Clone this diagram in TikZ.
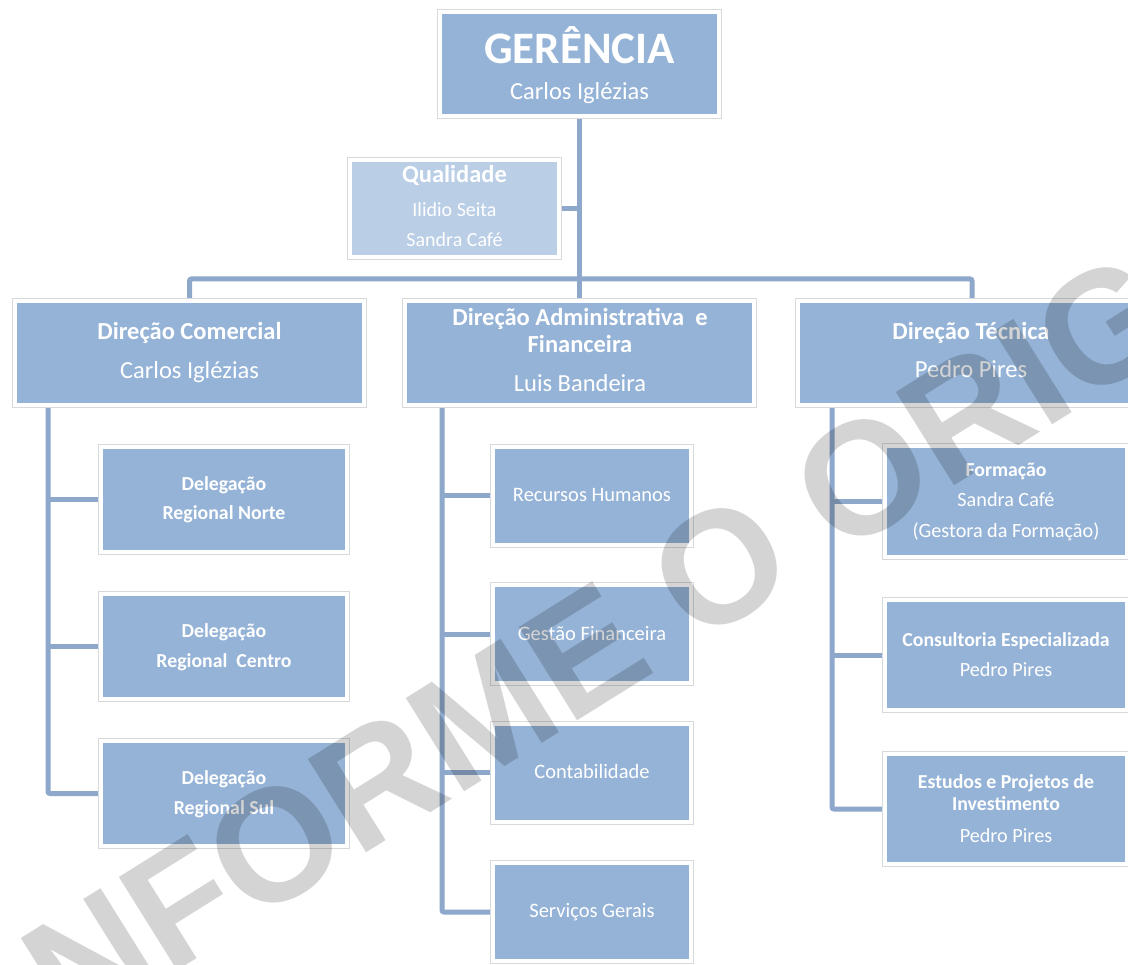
\documentclass[tikz,border=0pt]{standalone}
\usepackage{fontspec}
\setmainfont{Carlito}
\newfontfamily\wmfont{Liberation Sans}
\usetikzlibrary{backgrounds,calc}
\definecolor{boxblue}{HTML}{95B3D7}
\definecolor{qualblue}{HTML}{BACEE6}
\definecolor{framegray}{HTML}{D9D9D9}
\definecolor{linkblue}{HTML}{8DA8CB}
\begin{document}
\begin{tikzpicture}[x=1pt,y=-1pt,
  orgbox/.style={rectangle, inner sep=0pt, fill=boxblue, draw=white, line width=4pt,
                 preaction={draw=framegray, line width=6pt}},
  link/.style={draw=linkblue, line width=5pt, rounded corners=2pt},
  lbl/.style={anchor=base, text=white, inner sep=0pt},
  fs/.style={font=\fontsize{#1}{#1}\selectfont},
  bfs/.style={font=\fontsize{#1}{#1}\selectfont\bfseries},
  wm/.style={font=\wmfont\bfseries\fontsize{160}{160}\selectfont, text=black, text opacity=0.17, inner sep=0pt}]
\useasboundingbox (0,0) rectangle (1128,965);

% boxes
\node[orgbox, minimum width=279pt, minimum height=104pt] (ger) at (579.5,64) {};
\node[orgbox, fill=qualblue, minimum width=209pt, minimum height=97pt] (qual) at (454.5,208.5) {};
\node[orgbox, minimum width=349pt, minimum height=104pt] (dc) at (189.5,353) {};
\node[orgbox, minimum width=349pt, minimum height=104pt] (da) at (579.5,353) {};
\node[orgbox, minimum width=349pt, minimum height=104pt] (dt) at (972,353) {};
\node[orgbox, minimum width=246pt, minimum height=105pt] (del1) at (224,499.5) {};
\node[orgbox, minimum width=246pt, minimum height=105pt] (del2) at (224,646.5) {};
\node[orgbox, minimum width=246pt, minimum height=105pt] (del3) at (224,793.5) {};
\node[orgbox, minimum width=198pt, minimum height=98pt] (rh) at (592,496) {};
\node[orgbox, minimum width=198pt, minimum height=98pt] (gf) at (592,634) {};
\node[orgbox, minimum width=198pt, minimum height=98pt] (cont) at (592,772.5) {};
\node[orgbox, minimum width=198pt, minimum height=98pt] (serv) at (592,912) {};
\node[orgbox, minimum width=242pt, minimum height=111pt] (form) at (1006,501.5) {};
\node[orgbox, minimum width=242pt, minimum height=110pt] (cons) at (1006,655) {};
\node[orgbox, minimum width=242pt, minimum height=110pt] (est) at (1006,809) {};

% texts
\node[lbl, bfs=45] (g1) at (579.5,64) {GERÊNCIA};
\node[lbl, fs=24.5] (g2) at (579.5,100) {Carlos Iglézias};
\node[lbl, bfs=24.5] (q1) at (454.5,183) {Qualidade};
\node[lbl, fs=20] (q2) at (454.5,217) {Ilidio Seita};
\node[lbl, fs=20] (q3) at (454.5,247) {Sandra Café};
\node[lbl, bfs=24.5] (dc1) at (189.5,340) {Direção Comercial};
\node[lbl, fs=24.5] (dc2) at (189.5,379) {Carlos Iglézias};
\node[lbl, bfs=24.5] (da1) at (580,326) {Direção Administrativa\ \ e};
\node[lbl, bfs=24.5] (da2) at (580,353) {Financeira};
\node[lbl, fs=24.5] (da3) at (580,392) {Luis Bandeira};
\node[lbl, bfs=24.5] (dt1) at (971,340) {Direção Técnica};
\node[lbl, fs=24.5] (dt2) at (971,378) {Pedro Pires};
\node[lbl, bfs=19.8] (d11) at (224,491) {Delegação};
\node[lbl, bfs=19.8] (d12) at (224,520) {Regional Norte};
\node[lbl, bfs=19.8] (d21) at (224,637) {Delegação};
\node[lbl, bfs=19.8] (d22) at (224,667) {Regional\ \ Centro};
\node[lbl, bfs=19.8] (d31) at (224,784) {Delegação};
\node[lbl, bfs=19.8] (d32) at (224,814) {Regional Sul};
\node[lbl, fs=20.5] (rh1) at (592,502) {Recursos Humanos};
\node[lbl, fs=20.5] (gf1) at (592,640) {Gestão Financeira};
\node[lbl, fs=20.5] (co1) at (592,778) {Contabilidade};
\node[lbl, fs=20.5] (se1) at (592,917) {Serviços Gerais};
\node[lbl, bfs=19.8] (f1) at (1006,477) {Formação};
\node[lbl, fs=20.2] (f2) at (1006,507) {Sandra Café};
\node[lbl, fs=20.2] (f3) at (1006,537) {(Gestora da Formação)};
\node[lbl, bfs=19.8] (c1) at (1006,646) {Consultoria Especializada};
\node[lbl, fs=20.2] (c2) at (1006,676) {Pedro Pires};
\node[lbl, bfs=19.8] (e1) at (1006,788) {Estudos e Projetos de};
\node[lbl, bfs=19.8] (e2) at (1006,810) {Investimento};
\node[lbl, fs=20.2] (e3) at (1006,842) {Pedro Pires};

% connectors
\coordinate (barR) at (972,279);
\coordinate (spC) at (48,0);
\coordinate (spA) at (442,0);
\coordinate (spT) at (832,0);
\begin{scope}[on background layer]
  \fill[white] (0,0) rectangle (1128,965);
  \draw[link] (ger.south) -- (da.north);
  \draw[link] (qual.east) -- (qual.east -| ger.south);
  \draw[link] (dc.north) |- (barR) -- (dt.north);
  \draw[link] (dc.south -| spC) |- (del3.west);
  \draw[link] (del1.west -| spC) -- (del1.west);
  \draw[link] (del2.west -| spC) -- (del2.west);
  \draw[link] (da.south -| spA) |- (serv.west);
  \draw[link] (rh.west -| spA) -- (rh.west);
  \draw[link] (gf.west -| spA) -- (gf.west);
  \draw[link] (cont.west -| spA) -- (cont.west);
  \draw[link] (dt.south -| spT) |- (est.west);
  \draw[link] (form.west -| spT) -- (form.west);
  \draw[link] (cons.west -| spT) -- (cons.west);
\end{scope}

% watermark
\node[wm, rotate=32] (mark) at (656,607) {CONFORME O ORIGINAL};
\end{tikzpicture}
\end{document}
